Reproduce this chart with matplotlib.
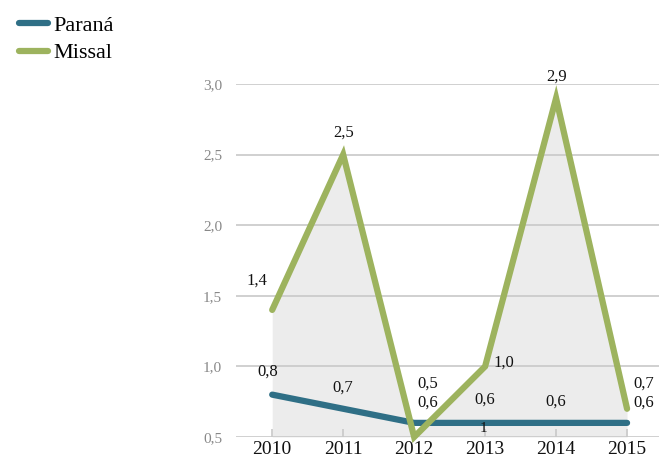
import matplotlib.pyplot as plt

years = ['2010', '2011', '2012', '2013', '2014', '2015']
parana = [0.8, 0.7, 0.6, 0.6, 0.6, 0.6]
missal = [1.4, 2.5, 0.5, 1.0, 2.9, 0.7]
yticks = [0.5, 1.0, 1.5, 2.0, 2.5, 3.0]

# label offsets in pixels (dx, dy)
missal_off = [(-15, 29), (0, 22), (14, 53), (19, 4), (0, 21), (17, 25)]
parana_off = [(-4, 23), (0, 21), (14, 20), (0, 23), (0, 21), (17, 20)]

teal = '#2f6f86'
green = '#9db35e'
grid_c = '#c8c8c8'

plt.rcParams['font.family'] = ['Liberation Serif', 'DejaVu Serif']

fig = plt.figure(figsize=(6.59, 4.59), dpi=100)
ax = fig.add_axes([236 / 659, 22 / 459, 423 / 659, 353 / 459])

x = list(range(len(years)))
ax.fill_between(x, missal, 0.5, color='#ececec', zorder=0.2, linewidth=0)
ax.plot(x, parana, color=teal, lw=4.5, solid_capstyle='round',
        solid_joinstyle='round', label='Paraná', zorder=3, clip_on=False)
ax.plot(x, missal, color=green, lw=4.5, solid_capstyle='round',
        solid_joinstyle='miter', label='Missal', zorder=4, clip_on=False)

def fmt(v):
    return f'{v:.1f}'.replace('.', ',')

for i, v in enumerate(missal):
    ax.annotate(fmt(v), (i, v), xytext=missal_off[i], textcoords='offset pixels',
                ha='center', va='center', fontsize=12, color='#111111', zorder=5)
for i, v in enumerate(parana):
    ax.annotate(fmt(v), (i, v), xytext=parana_off[i], textcoords='offset pixels',
                ha='center', va='center', fontsize=12, color='#111111', zorder=5)
# stray label below 2013
ax.annotate('1', (3, 0.5), xytext=(-2, 9), textcoords='offset pixels',
            ha='center', va='center', fontsize=11, color='#111111', zorder=5)

ax.set_xlim(-0.51, 5.45)
ax.set_ylim(0.5, 3.0)
ax.set_yticks(yticks)
ax.set_yticklabels([fmt(v) for v in yticks])
ax.set_xticks(x)
ax.set_xticklabels(years)
ax.set_axisbelow(True)
ax.grid(axis='y', color=grid_c, lw=1.2)
for s in ax.spines.values():
    s.set_visible(False)
ax.tick_params(axis='y', length=0, pad=10, labelsize=11, labelcolor='#888888')
ax.tick_params(axis='x', direction='in', length=6, color=grid_c, width=1.2,
               pad=3, labelsize=14, labelcolor='#111111')
ax.patch.set_alpha(0)

fig.legend(loc='upper left', bbox_to_anchor=(0.005, 1.0), frameon=False,
           handlelength=1.3, handletextpad=0.25, labelspacing=0.3, fontsize=16,
           borderaxespad=0.3)

fig.savefig('out.png', dpi=100)
